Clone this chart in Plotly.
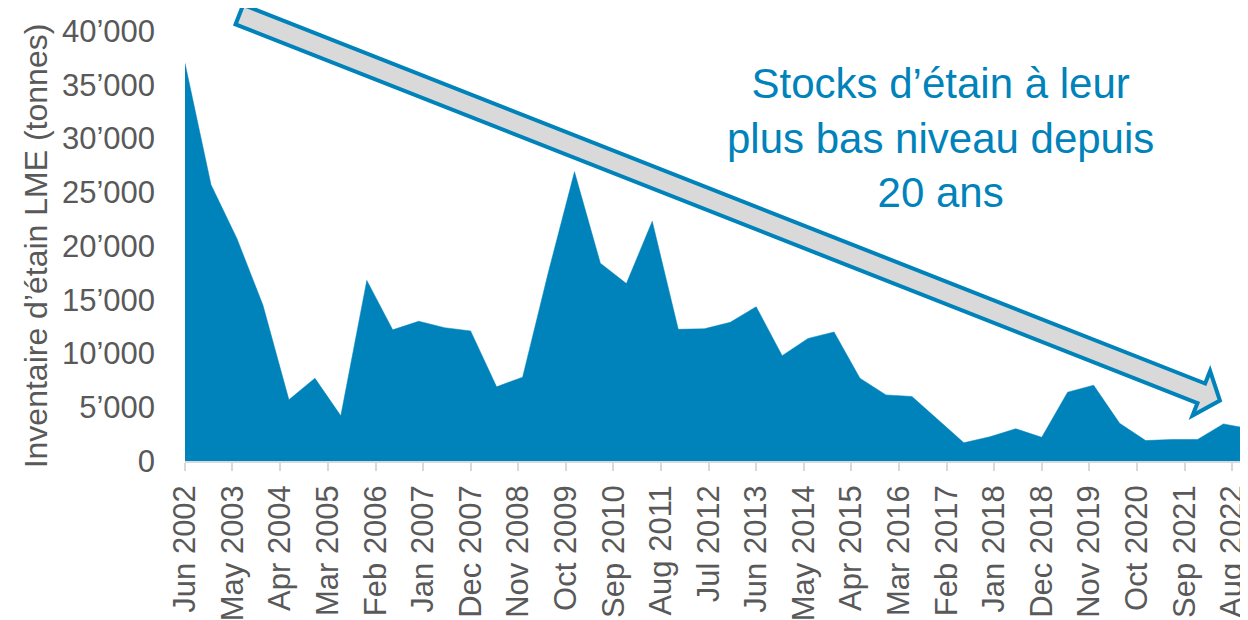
import math

import plotly.graph_objects as go

BLUE = "#0082ba"
GREY_TXT = "#595959"
FONT = "Liberation Sans, Arial, sans-serif"

# half-yearly LME tin stocks (tonnes)
dates = [
    "2002-06-01", "2002-12-01", "2003-06-01", "2003-12-01", "2004-06-01", "2004-12-01",
    "2005-06-01", "2005-12-01", "2006-06-01", "2006-12-01", "2007-06-01", "2007-12-01",
    "2008-06-01", "2008-12-01", "2009-06-01", "2009-12-01", "2010-06-01", "2010-12-01",
    "2011-06-01", "2011-12-01", "2012-06-01", "2012-12-01", "2013-06-01", "2013-12-01",
    "2014-06-01", "2014-12-01", "2015-06-01", "2015-12-01", "2016-06-01", "2016-12-01",
    "2017-06-01", "2017-12-01", "2018-06-01", "2018-12-01", "2019-06-01", "2019-12-01",
    "2020-06-01", "2020-12-01", "2021-06-01", "2021-12-01", "2022-06-01", "2022-12-01",
]
stocks = [
    37000, 25700, 20700, 14500, 5700, 7700,
    4200, 16800, 12200, 13000, 12400, 12100,
    6900, 7800, 17600, 26900, 18400, 16500,
    22300, 12250, 12300, 12900, 14350, 9800,
    11400, 12000, 7700, 6150, 6000, 3800,
    1700, 2250, 3000, 2200, 6400, 7050,
    3500, 1900, 2000, 2000, 3450, 3000,
]

# the page body adds an 8px margin, so the figure is sized to fill the window
OFF = 8
W, H = 1248 - OFF, 620 - OFF
L, R, T, B = 185 - OFF, 0, 31 - OFF, 159
PW, PH = W - L - R, H - T - B


def to_paper(px, py):
    # px, py are window pixels
    return (px - OFF - L) / PW, (H - B - (py - OFF)) / PH


# block arrow (pixel geometry of the callout, converted to paper coords)
tail = (237.5, 13.9)
tip = (1222.7, 401.7)
dx, dy = tip[0] - tail[0], tip[1] - tail[1]
length = math.hypot(dx, dy)
ux, uy = dx / length, dy / length
nx, ny = -uy, ux
shaft, head_w, head_l = 10.5, 24, 23


def pt(a, b):
    return to_paper(tail[0] + ux * a + nx * b, tail[1] + uy * a + ny * b)


base = length - head_l
poly = [pt(2, -shaft), pt(base, -shaft), pt(base, -head_w), pt(length - 3, 0),
        pt(base, head_w), pt(base, shaft), pt(2, shaft)]
path = "M " + " L ".join(f"{x:.5f},{y:.5f}" for x, y in poly) + " Z"

fig = go.Figure()
fig.add_trace(
    go.Scatter(
        x=dates,
        y=stocks,
        mode="lines",
        fill="tozeroy",
        fillcolor=BLUE,
        line=dict(color=BLUE, width=0.5),
        hoverinfo="x+y",
        showlegend=False,
    )
)

fig.add_shape(
    type="path",
    path=path,
    xref="paper",
    yref="paper",
    fillcolor="#d9d9d9",
    line=dict(color=BLUE, width=4),
    layer="above",
)

ax, ay = to_paper(940, 138)
fig.add_annotation(
    x=ax,
    y=ay,
    xref="paper",
    yref="paper",
    text="Stocks d’étain à leur<br>plus bas niveau depuis<br>20 ans",
    showarrow=False,
    font=dict(family=FONT, size=42, color=BLUE),
    align="center",
    xanchor="center",
    yanchor="middle",
)

fig.update_layout(
    width=W,
    height=H,
    margin=dict(l=L, r=R, t=T, b=B, autoexpand=False),
    plot_bgcolor="white",
    paper_bgcolor="white",
    separators=".’",
    font=dict(family=FONT, color=GREY_TXT),
    xaxis=dict(
        type="date",
        range=["2002-06-01", "2022-11-21"],
        tick0="2002-06-01",
        dtick="M11",
        tickformat="%b %Y",
        tickangle=-90,
        ticks="outside",
        ticklen=8,
        tickcolor="#d9d9d9",
        tickwidth=1.5,
        showline=True,
        linecolor="#d9d9d9",
        linewidth=1.5,
        showgrid=False,
        tickfont=dict(size=31, color=GREY_TXT),
        ticklabelstandoff=2,
        ticklabeloverflow="allow",
    ),
    yaxis=dict(
        range=[0, 40000],
        dtick=5000,
        tickformat=",d",
        showgrid=False,
        zeroline=False,
        showline=False,
        tickfont=dict(size=31, color=GREY_TXT),
        ticklabelstandoff=29,
        title=dict(
            text="Inventaire d’étain LME (tonnes)",
            font=dict(size=32, color=GREY_TXT),
            standoff=4,
        ),
    ),
)

fig.write_html("out.html")
